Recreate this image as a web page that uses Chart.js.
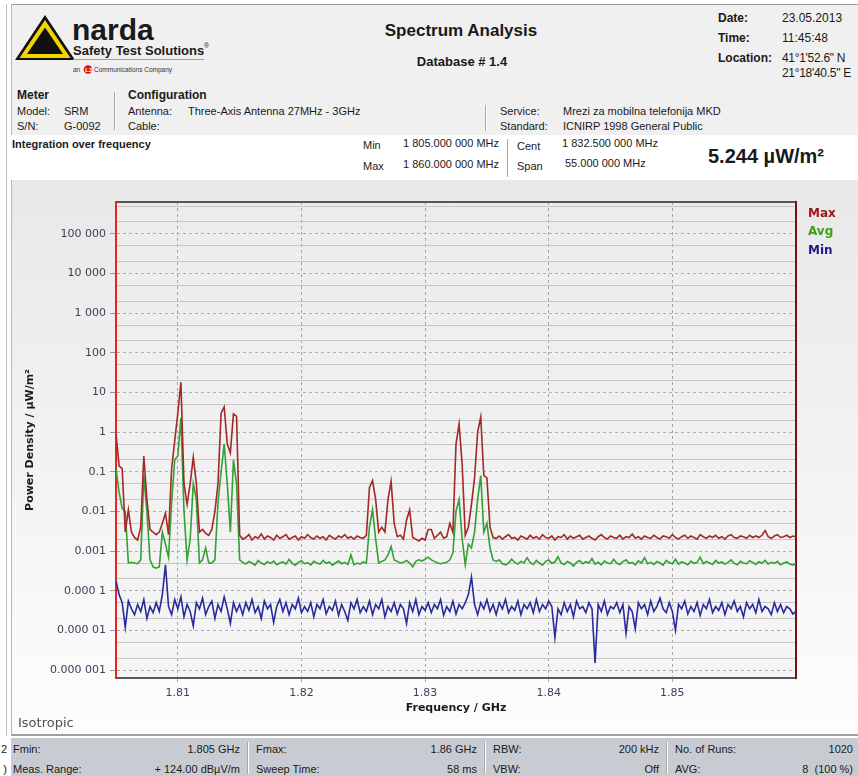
<!DOCTYPE html>
<html>
<head>
<meta charset="utf-8">
<script src="https://cdn.jsdelivr.net/npm/chart.js@4.4.1/dist/chart.umd.min.js"></script>
<style>
  body { margin: 0; width: 858px; height: 776px; overflow: hidden; background: #fff; position: relative;
         font-family: "Liberation Sans", Arial, sans-serif; font-size: 11px; color: #1a1a1a; }
  .t { position: absolute; white-space: nowrap; line-height: 14px; }
  .b { font-weight: bold; }
  .r { text-align: right; }
  .vl { position: absolute; width: 1px; background: #a8a8a8; border-right: 1px solid #fff; }
  #head { position: absolute; left: 11px; top: 4px; width: 847px; height: 131px; background: #f0f0f0;
          border-top: 1px solid #9a9a9a; border-left: 1px solid #b8b8b8; box-sizing: border-box; }
  #panel { position: absolute; left: 11px; top: 180px; width: 847px; height: 556px;
           background: linear-gradient(#e8e8e8, #fdfdfd); border-left: 1px solid #b8b8b8;
           border-bottom: 2px solid #a0a0a0; box-sizing: border-box; }
  #foot { position: absolute; left: 11px; top: 738px; width: 847px; height: 38px; background: #c8ccd2; }
  #chart { position: absolute; left: 12px; top: 182px; }
</style>
</head>
<body>
<div style="position:absolute;left:6px;top:4px;width:1px;height:732px;background:#c0c0c0"></div>
<div id="head"></div>
<div id="panel"></div>
<div id="foot"></div>

<!-- logo -->
<svg style="position:absolute;left:0;top:0" width="230" height="80">
  <polygon points="15,60 45,15 75,60" fill="#111"/>
  <polygon points="19.5,58 45,20 70.5,58" fill="#f2d500"/>
  <polygon points="27,54 45,27.5 63,54" fill="#111"/>
  <text x="72" y="40" font-family="Liberation Sans" font-weight="bold" font-size="30" fill="#1a1a1a">narda</text>
  <text x="73" y="55" font-family="Liberation Sans" font-weight="bold" font-size="13" fill="#1a1a1a">Safety Test Solutions</text>
  <text x="204" y="48" font-family="Liberation Sans" font-size="7" fill="#1a1a1a">®</text>
  <line x1="73" y1="59.5" x2="204" y2="59.5" stroke="#a0a0a0" stroke-width="1"/>
  <text x="73" y="72" font-family="Liberation Sans" font-size="6.5" fill="#333">an</text>
  <circle cx="88" cy="69.5" r="4.3" fill="#e01010"/>
  <text x="85.3" y="72" font-family="Liberation Sans" font-weight="bold" font-size="6" fill="#fff">L3</text>
  <text x="94" y="72" font-family="Liberation Sans" font-size="6.5" fill="#333">Communications Company</text>
</svg>

<div class="t b" style="left:361px;top:21px;width:200px;text-align:center;font-size:17px;line-height:20px">Spectrum Analysis</div>
<div class="t b" style="left:362px;top:54px;width:200px;text-align:center;font-size:13px;line-height:16px">Database # 1.4</div>

<div class="t b" style="left:718px;top:11px;font-size:12px">Date:</div>
<div class="t" style="left:782px;top:11px;font-size:12px">23.05.2013</div>
<div class="t b" style="left:718px;top:31px;font-size:12px">Time:</div>
<div class="t" style="left:782px;top:31px;font-size:12px">11:45:48</div>
<div class="t b" style="left:718px;top:51px;font-size:12px">Location:</div>
<div class="t" style="left:782px;top:51px;font-size:12px;letter-spacing:-0.3px">41°1'52.6" N</div>
<div class="t" style="left:782px;top:66px;font-size:12px;letter-spacing:-0.3px">21°18'40.5" E</div>

<div class="t b" style="left:17px;top:88px;font-size:12px">Meter</div>
<div class="t" style="left:17px;top:104px">Model:</div>
<div class="t" style="left:64px;top:104px">SRM</div>
<div class="t" style="left:17px;top:119px">S/N:</div>
<div class="t" style="left:64px;top:119px">G-0092</div>
<div class="vl" style="left:114px;top:92px;height:38px"></div>
<div class="t b" style="left:128px;top:88px;font-size:12px">Configuration</div>
<div class="t" style="left:128px;top:104px">Antenna:</div>
<div class="t" style="left:188px;top:104px">Three-Axis Antenna 27MHz - 3GHz</div>
<div class="t" style="left:128px;top:119px">Cable:</div>
<div class="vl" style="left:485px;top:105px;height:26px"></div>
<div class="t" style="left:500px;top:104px">Service:</div>
<div class="t" style="left:563px;top:104px">Mrezi za mobilna telefonija MKD</div>
<div class="t" style="left:500px;top:119px">Standard:</div>
<div class="t" style="left:563px;top:119px">ICNIRP 1998 General Public</div>

<div class="t b" style="left:12px;top:137px">Integration over frequency</div>
<div class="t" style="left:363px;top:138px">Min</div>
<div class="t" style="left:403px;top:136px">1 805.000 000 MHz</div>
<div class="t" style="left:363px;top:159px">Max</div>
<div class="t" style="left:403px;top:157px">1 860.000 000 MHz</div>
<div class="vl" style="left:507px;top:139px;height:38px"></div>
<div class="t" style="left:517px;top:139px">Cent</div>
<div class="t" style="left:562px;top:136px">1 832.500 000 MHz</div>
<div class="t" style="left:517px;top:159px">Span</div>
<div class="t" style="left:565px;top:156px">55.000 000 MHz</div>
<div class="t b" style="left:708px;top:144px;font-size:20px;line-height:24px">5.244 µW/m²</div>

<canvas id="chart" width="846" height="553"></canvas>

<div class="t" style="left:18px;top:715px;font-family:'DejaVu Sans';font-size:13px;line-height:16px;color:#505050">Isotropic</div>

<div class="t" style="right:851px;top:742px">2</div>
<div class="t" style="right:851px;top:762px">)</div>
<div class="t" style="left:13px;top:742px">Fmin:</div>
<div class="t r" style="left:140px;width:100px;top:742px">1.805 GHz</div>
<div class="t" style="left:13px;top:762px">Meas. Range:</div>
<div class="t r" style="left:140px;width:100px;top:762px">+ 124.00 dBµV/m</div>
<div class="vl" style="left:247px;top:742px;height:32px"></div>
<div class="t" style="left:256px;top:742px">Fmax:</div>
<div class="t r" style="left:377px;width:100px;top:742px">1.86 GHz</div>
<div class="t" style="left:256px;top:762px">Sweep Time:</div>
<div class="t r" style="left:377px;width:100px;top:762px">58 ms</div>
<div class="vl" style="left:484px;top:742px;height:32px"></div>
<div class="t" style="left:493px;top:742px">RBW:</div>
<div class="t r" style="left:559px;width:100px;top:742px">200 kHz</div>
<div class="t" style="left:493px;top:762px">VBW:</div>
<div class="t r" style="left:559px;width:100px;top:762px">Off</div>
<div class="vl" style="left:666px;top:742px;height:32px"></div>
<div class="t" style="left:675px;top:742px">No. of Runs:</div>
<div class="t r" style="left:753px;width:100px;top:742px">1020</div>
<div class="t" style="left:675px;top:762px">AVG:</div>
<div class="t r" style="left:753px;width:100px;top:762px">8 &nbsp;(100 %)</div>

<script>
// sweep: 1.805 GHz .. 1.860 GHz, one trace point every 0.25 MHz
const F_START = 1.805;
const F_STOP = 1.86;
const F_STEP = 0.00025;

const X_TICKS = [1.81, 1.82, 1.83, 1.84, 1.85];
const Y_TICKS = [1e-6, 1e-5, 1e-4, 1e-3, 0.01, 0.1, 1, 10, 100, 1000, 1e4, 1e5];
const Y_TICK_LABELS = ['0.000 001', '0.000 01', '0.000 1', '0.001', '0.01', '0.1', '1', '10', '100', '1 000', '10 000', '100 000'];
const Y_MINOR = [2e-6, 5e-6, 2e-5, 5e-5, 2e-4, 5e-4, 0.002, 0.005, 0.02, 0.05, 0.2, 0.5,
                 2, 5, 20, 50, 200, 500, 2000, 5000, 2e4, 5e4, 2e5, 5e5];

const SERIES = ['Max', 'Avg', 'Min'];

// power density, µW/m²
const MAX_PD = [
  0.9, 0.14, 0.12, 0.003, 0.011, 0.003, 0.0022, 0.0019, 0.004, 0.25,
  0.02, 0.0035, 0.003, 0.0026, 0.003, 0.005, 0.009, 0.0026, 0.12, 0.6,
  3, 18, 0.05, 0.015, 0.05, 0.23, 0.05, 0.003, 0.0035, 0.0028,
  0.0025, 0.0035, 0.01, 0.05, 3, 4.3, 0.5, 0.3, 2.9, 2.5,
  0.0025, 0.002, 0.0022, 0.0026, 0.0019, 0.0023, 0.0021, 0.0027, 0.002, 0.0024,
  0.0022, 0.0019, 0.0025, 0.0021, 0.0023, 0.0026, 0.002, 0.0022, 0.0024, 0.0019,
  0.0023, 0.0021, 0.0026, 0.0022, 0.002, 0.0024, 0.0021, 0.0023, 0.0019, 0.0025,
  0.0022, 0.002, 0.0024, 0.0022, 0.0026, 0.0021, 0.0023, 0.002, 0.0024, 0.0022,
  0.0021, 0.0025, 0.04, 0.06, 0.02, 0.003, 0.004, 0.003, 0.02, 0.057,
  0.005, 0.0023, 0.0025, 0.002, 0.006, 0.011, 0.0022, 0.002, 0.0018, 0.0021,
  0.0019, 0.0035, 0.0035, 0.0021, 0.0025, 0.003, 0.0021, 0.0023, 0.005, 0.003,
  0.5, 1.6, 0.15, 0.0025, 0.004, 0.015, 0.07, 1.0, 2.4, 0.08,
  0.07, 0.004, 0.0022, 0.0021, 0.0024, 0.002, 0.0023, 0.0026, 0.0021, 0.0022,
  0.0019, 0.0024, 0.0022, 0.002, 0.0025, 0.0021, 0.0023, 0.002, 0.0026, 0.0022,
  0.0021, 0.0024, 0.0019, 0.0023, 0.0022, 0.0026, 0.002, 0.0024, 0.0021, 0.0023,
  0.0025, 0.002, 0.0022, 0.0024, 0.0021, 0.0019, 0.0023, 0.0026, 0.0022, 0.002,
  0.0024, 0.0022, 0.0021, 0.0025, 0.002, 0.0023, 0.0022, 0.0027, 0.0021, 0.0023,
  0.002, 0.0024, 0.0022, 0.0021, 0.0025, 0.0022, 0.002, 0.0024, 0.0023, 0.0021,
  0.0026, 0.0022, 0.002, 0.0023, 0.0025, 0.0021, 0.0024, 0.0022, 0.002, 0.0026,
  0.0023, 0.0021, 0.0024, 0.0022, 0.0025, 0.0021, 0.0023, 0.002, 0.0024, 0.0026,
  0.0022, 0.0021, 0.0024, 0.0023, 0.0021, 0.0025, 0.0022, 0.0024, 0.0022, 0.0025,
  0.0033, 0.0023, 0.0021, 0.0024, 0.0026, 0.0022, 0.0023, 0.0025, 0.0022, 0.0024,
  0.0023
];

const AVG_PD = [
  0.12, 0.03, 0.012, 0.01, 0.0005, 0.00052, 0.0005, 0.00048, 0.0006, 0.08,
  0.01, 0.0006, 0.0004, 0.00037, 0.0004, 0.003, 0.0015, 0.0007, 0.017, 0.2,
  0.25, 2.3, 0.01, 0.0006, 0.002, 0.05, 0.02, 0.0005, 0.0006, 0.0012,
  0.0005, 0.0005, 0.0006, 0.017, 0.1, 0.5, 0.05, 0.003, 0.2, 0.05,
  0.0006, 0.00052, 0.00047, 0.00055, 0.0005, 0.00044, 0.00058, 0.0005, 0.00046, 0.00054,
  0.00049, 0.00056, 0.00045, 0.0005, 0.00053, 0.00047, 0.00062, 0.00049, 0.00044, 0.00052,
  0.00057, 0.00048, 0.00051, 0.00045, 0.00055, 0.0005, 0.00047, 0.00058, 0.00049, 0.00053,
  0.00044, 0.0005, 0.00056, 0.00048, 0.00052, 0.00046, 0.0008, 0.00045, 0.0005, 0.00047,
  0.00053, 0.0005, 0.004, 0.011, 0.002, 0.0005, 0.00055, 0.0006, 0.0008, 0.0013,
  0.0006, 0.00055, 0.0005, 0.00052, 0.00058, 0.0005, 0.0004, 0.00055, 0.0006, 0.00056,
  0.00062, 0.0007, 0.0006, 0.00055, 0.0005, 0.00048, 0.0005, 0.00052, 0.0006, 0.0009,
  0.01, 0.02, 0.002, 0.00045, 0.0015, 0.0012, 0.003, 0.02, 0.08, 0.003,
  0.005, 0.0012, 0.0006, 0.00055, 0.0006, 0.00048, 0.00045, 0.0005, 0.00062, 0.00052,
  0.00047, 0.00055, 0.0005, 0.00068, 0.00052, 0.00046, 0.00058, 0.0005, 0.00044, 0.00055,
  0.0006, 0.00049, 0.00053, 0.00072, 0.0005, 0.00046, 0.00055, 0.0005, 0.00042, 0.00052,
  0.00058, 0.00048, 0.00054, 0.0005, 0.00065, 0.00047, 0.00052, 0.00045, 0.00056, 0.0005,
  0.00048, 0.00062, 0.0005, 0.00046, 0.00054, 0.0006, 0.00049, 0.00052, 0.00045, 0.00057,
  0.0005, 0.00068, 0.00048, 0.00052, 0.00046, 0.00055, 0.0005, 0.00044, 0.00058, 0.00051,
  0.00048, 0.00062, 0.00047, 0.00053, 0.0005, 0.00045, 0.00056, 0.00049, 0.00052, 0.0007,
  0.00048, 0.00055, 0.0005, 0.00046, 0.00058, 0.0005, 0.00053, 0.00047, 0.00052, 0.0006,
  0.00049, 0.00045, 0.00055, 0.0005, 0.00048, 0.00057, 0.00052, 0.00046, 0.00054, 0.0005,
  0.00058, 0.00047, 0.00052, 0.00049, 0.00055, 0.00045, 0.0005, 0.00053, 0.00047, 0.00044,
  0.0005
];

const MIN_PD = [
  1.8e-4, 8e-5, 5e-5, 1.2e-5, 5.5e-5, 3.5e-5, 2.5e-5, 4.5e-5, 3e-5, 6e-5,
  2e-5, 4e-5, 2.8e-5, 5e-5, 3e-5, 8e-5, 4.5e-4, 4e-5, 2.5e-5, 6e-5,
  3.5e-5, 7e-5, 2.2e-5, 4.5e-5, 3e-5, 1.3e-5, 5e-5, 3.5e-5, 6.5e-5, 2.5e-5,
  4e-5, 5.5e-5, 2e-5, 4.5e-5, 3e-5, 7e-5, 3.5e-5, 1.5e-5, 5e-5, 3e-5,
  4.5e-5, 2.5e-5, 5e-5, 3.2e-5, 6e-5, 2.8e-5, 4e-5, 2e-5, 5.5e-5, 3.5e-5,
  4.5e-5, 1.6e-5, 4e-5, 6e-5, 3e-5, 5e-5, 2.5e-5, 4.5e-5, 3.5e-5, 6.5e-5,
  2.8e-5, 4e-5, 3e-5, 5e-5, 2.2e-5, 4.5e-5, 3.5e-5, 6e-5, 2.6e-5, 4e-5,
  3.2e-5, 5.5e-5, 2.4e-5, 4.5e-5, 3e-5, 1.8e-5, 5e-5, 3.5e-5, 6e-5, 2.8e-5,
  4e-5, 3e-5, 5.5e-5, 2.5e-5, 4.5e-5, 3.5e-5, 6e-5, 2.2e-5, 4e-5, 3e-5,
  5e-5, 2.6e-5, 4.5e-5, 3.5e-5, 1.5e-5, 5e-5, 3e-5, 6e-5, 2.5e-5, 4e-5,
  3.2e-5, 5e-5, 2.8e-5, 4.5e-5, 3.5e-5, 6e-5, 2.4e-5, 4e-5, 3e-5, 5.5e-5,
  2.6e-5, 4.5e-5, 3.5e-5, 5e-5, 8e-5, 2.2e-4, 4.5e-5, 2.5e-5, 5e-5, 3.5e-5,
  6e-5, 3e-5, 4.5e-5, 2.5e-5, 5e-5, 3.5e-5, 6e-5, 2.8e-5, 4e-5, 3.2e-5,
  5.5e-5, 2.5e-5, 4.5e-5, 3.5e-5, 5e-5, 2.8e-5, 6e-5, 3e-5, 4.5e-5, 3.5e-5,
  5.5e-5, 4e-5, 6.7e-6, 3.5e-5, 2.5e-5, 5e-5, 3e-5, 4.5e-5, 2.2e-5, 5.5e-5,
  3.5e-5, 4e-5, 2.8e-5, 5e-5, 3.5e-5, 1.5e-6, 4.5e-5, 3e-5, 5.5e-5, 2.5e-5,
  4e-5, 3.5e-5, 5e-5, 2.8e-5, 4.5e-5, 8.5e-6, 4e-5, 3e-5, 1.1e-5, 5e-5,
  3.5e-5, 4.5e-5, 2.5e-5, 5.5e-5, 3e-5, 4e-5, 6.5e-5, 3.5e-5, 2.8e-5, 5e-5,
  3e-5, 1e-5, 4.5e-5, 3.5e-5, 5.5e-5, 2.6e-5, 4e-5, 3e-5, 5e-5, 2.4e-5,
  4.5e-5, 3.5e-5, 6e-5, 2.8e-5, 4e-5, 3.2e-5, 5e-5, 2.5e-5, 4.5e-5, 3.5e-5,
  5.5e-5, 3e-5, 4e-5, 2.2e-5, 5e-5, 3.5e-5, 4.5e-5, 2.8e-5, 6e-5, 3e-5,
  4e-5, 3.5e-5, 2.5e-5, 5e-5, 3e-5, 4.5e-5, 2.8e-5, 4e-5, 3.5e-5, 2.6e-5,
  3e-5
];

const LINE_COLORS = ['#a42828', '#33a033', '#2a2a9c'];
const LABEL_COLORS = ['#a01818', '#3fa01a', '#1c1c8c'];

function trace(values) {
  return values.map(function (v, i) {
    return { x: +(F_START + i * F_STEP).toFixed(5), y: v };
  });
}

var tickFont = { family: '"DejaVu Sans", Verdana, sans-serif', size: 11 };
var titleFont = { family: '"DejaVu Sans", Verdana, sans-serif', size: 11, weight: 'bold' };

// faint fill behind the plot
var plotBack = {
  id: 'plotBack',
  beforeDraw: function (chart) {
    var a = chart.chartArea, ctx = chart.ctx;
    var g = ctx.createLinearGradient(0, a.top, 0, a.bottom);
    g.addColorStop(0, '#ececec');
    g.addColorStop(1, '#f5f5f5');
    ctx.save();
    ctx.fillStyle = g;
    ctx.fillRect(a.left, a.top, a.right - a.left, a.bottom - a.top);
    ctx.restore();
  }
};

// Max / Avg / Min names at the right of the plot
var sideLegend = {
  id: 'sideLegend',
  afterDraw: function (chart) {
    var a = chart.chartArea, ctx = chart.ctx;
    ctx.save();
    ctx.font = 'bold 12px "DejaVu Sans", Verdana, sans-serif';
    ctx.textBaseline = 'middle';
    ctx.textAlign = 'left';
    chart.data.datasets.forEach(function (ds, i) {
      ctx.fillStyle = LABEL_COLORS[i];
      ctx.fillText(ds.label, a.right + 12, a.top + 11.5 + i * 18.5);
    });
    ctx.restore();
  }
};

var logMin = Math.pow(10, -6.2);
var logMax = Math.pow(10, 5.8);

new Chart(document.getElementById('chart').getContext('2d'), {
  type: 'line',
  plugins: [plotBack, sideLegend],
  data: {
    datasets: [MAX_PD, AVG_PD, MIN_PD].map(function (vals, i) {
      return {
        label: SERIES[i],
        data: trace(vals),
        borderColor: LINE_COLORS[i],
        borderWidth: 1.6,
        pointRadius: 0,
        tension: 0,
        fill: false
      };
    })
  },
  options: {
    responsive: false,
    animation: false,
    events: [],
    layout: { padding: { top: 20, right: 62, left: 0, bottom: 0 } },
    plugins: { legend: { display: false }, tooltip: { enabled: false } },
    scales: {
      x: {
        type: 'linear',
        position: 'bottom',
        min: F_START,
        max: F_STOP,
        afterBuildTicks: function (s) { s.ticks = X_TICKS.map(function (v) { return { value: v }; }); },
        afterFit: function (s) { s.height = 57; },
        ticks: {
          autoSkip: false, maxRotation: 0, padding: 5, color: '#404058', font: tickFont,
          callback: function (v) { return v.toFixed(2); }
        },
        grid: { color: '#a6a6a6', lineWidth: 1, tickLength: 4, tickColor: '#a6a6a6' },
        border: { color: '#5a5a5a', width: 2, dash: [3, 3] },
        title: { display: true, text: 'Frequency / GHz', color: '#1a1a1a', font: titleFont, padding: { top: 0, bottom: 20 } }
      },
      xTop: {
        type: 'linear',
        position: 'top',
        min: F_START,
        max: F_STOP,
        afterFit: function (s) { s.height = 0; },
        ticks: { display: false },
        grid: { display: false },
        border: { color: '#555555', width: 2 }
      },
      y: {
        type: 'logarithmic',
        position: 'left',
        min: logMin,
        max: logMax,
        afterBuildTicks: function (s) { s.ticks = Y_TICKS.map(function (v) { return { value: v }; }); },
        afterFit: function (s) { s.width = 104; },
        ticks: {
          autoSkip: false, padding: 4, color: '#404058', font: tickFont,
          callback: function (v, i) { return Y_TICK_LABELS[i]; }
        },
        grid: { color: '#b0b0b0', lineWidth: 1, tickLength: 6, tickColor: '#9a9a9a' },
        border: { color: '#e8241e', width: 2, dash: [3, 3] },
        title: { display: true, text: 'Power Density / µW/m²', color: '#1a1a1a', font: titleFont, padding: { top: 12, bottom: 0 } }
      },
      yMinor: {
        type: 'logarithmic',
        position: 'right',
        min: logMin,
        max: logMax,
        afterBuildTicks: function (s) { s.ticks = Y_MINOR.map(function (v) { return { value: v }; }); },
        afterFit: function (s) { s.width = 0; },
        ticks: { display: false },
        grid: { color: '#c6c6c6', lineWidth: 1, drawTicks: false },
        border: { color: '#7a1010', width: 2 }
      }
    }
  }
});
</script>
</body>
</html>
